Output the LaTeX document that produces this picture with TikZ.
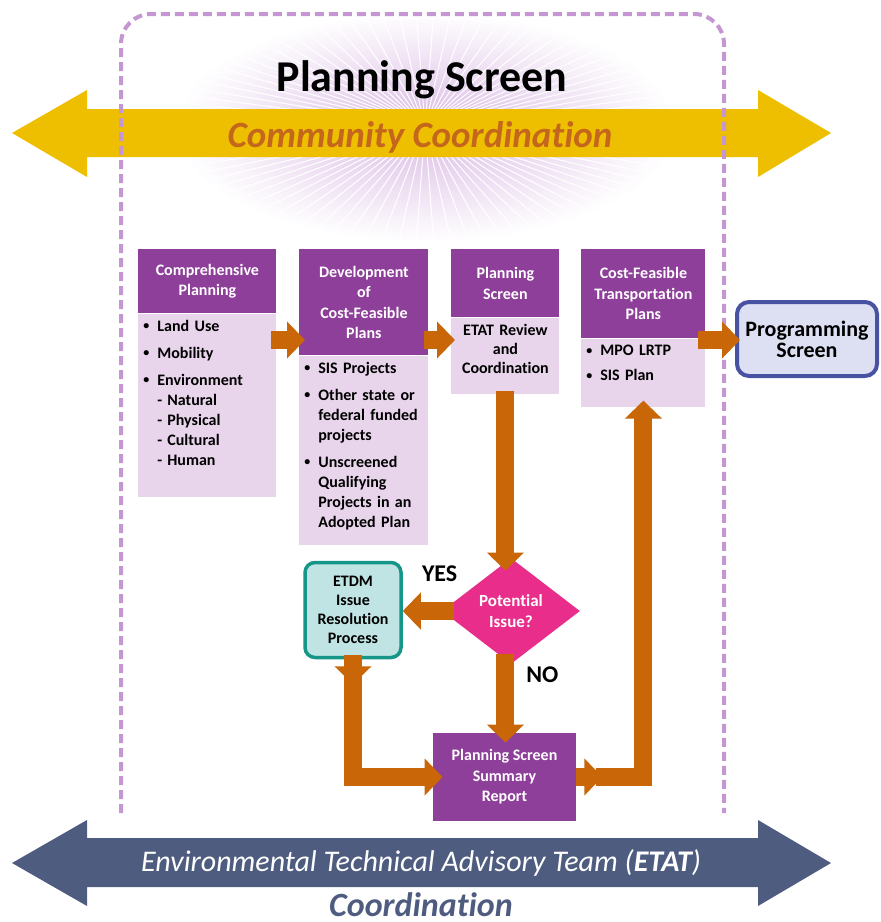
\documentclass[tikz,border=0pt]{standalone}
\usepackage{fontspec}
\setmainfont[Ligatures=NoCommon]{Carlito}
\usetikzlibrary{shapes.geometric,positioning,arrows.meta}
\definecolor{hdrpurple}{RGB}{142,63,154}
\definecolor{bodypurple}{RGB}{232,212,235}
\definecolor{flowor}{RGB}{201,102,8}
\definecolor{commyel}{RGB}{238,190,0}
\definecolor{commtxt}{RGB}{196,102,28}
\definecolor{etatslate}{RGB}{78,92,128}
\definecolor{framelilac}{RGB}{196,150,210}
\definecolor{glowlilac}{RGB}{218,186,228}
\definecolor{issuepink}{RGB}{232,46,138}
\definecolor{etdmteal}{RGB}{22,150,136}
\definecolor{etdmfill}{RGB}{192,228,228}
\definecolor{progblue}{RGB}{72,82,162}
\definecolor{progfill}{RGB}{221,223,242}
\tikzstyle{hdr}=[rectangle,fill=hdrpurple,text=white,font=\bfseries\fontsize{8}{10.25}\selectfont,align=center,inner sep=0pt]
\tikzstyle{bdy}=[rectangle,fill=bodypurple,inner sep=0pt]
\tikzstyle{lst}=[inner xsep=2.5pt,inner ysep=0pt,font=\bfseries\fontsize{8}{10}\selectfont,align=left]
\tikzstyle{flow}=[draw=flowor,line width=9pt,-{Triangle[width=18pt,length=9pt]}]
\tikzstyle{lbl}=[font=\bfseries\fontsize{12}{12}\selectfont,inner sep=0pt]
\tikzstyle{frame}=[draw=framelilac,line width=2pt,dash pattern=on 4.5pt off 2.5pt,rounded corners=15pt]
\newcommand\blt{\raisebox{0.2ex}{\fontsize{6}{6}\selectfont\textbullet}}
\newcommand\itm[2][3.5pt]{\hangindent=7pt\hangafter=1\noindent\makebox[7pt][l]{\blt}#2\par\vspace{#1}}
\newcommand\subitm[1]{\noindent\hspace*{7pt}\makebox[5pt][l]{-}#1\par}
\begin{document}
\begin{tikzpicture}[x=0.5pt,y=-0.5pt]
	\useasboundingbox (0,0) rectangle (880,922);
	\shade[inner color=glowlilac,outer color=white] (425,127) ellipse [x radius=250,y radius=115];
	\foreach \a in {0,4,...,356}
	\draw[white,line width=0.5pt] (425,127) -- +({250*cos(\a)},{115*sin(\a)});
	\fill[commyel] (12,133) -- (87,90) -- (87,109) -- (758,109) -- (758,90) -- (831,133)
		-- (758,177) -- (758,157) -- (87,157) -- (87,177) -- cycle;
	\draw[frame] (121,813) -- (121,14) -- (724,14) -- (724,813);
	\node[font=\bfseries\fontsize{22}{24}\selectfont] (title) at (422,80) {Planning Screen};
	\node[text=commtxt,font=\bfseries\itshape\fontsize{18.5}{20}\selectfont] (comm) at (420,137) {Community Coordination};

	\node[hdr,anchor=north west,minimum width=69pt,minimum height=32pt] (hdrA) at (138,249) {Comprehensive\\Planning};
	\node[bdy,below=0pt of hdrA,minimum width=69pt,minimum height=91.5pt] (bodyA) {};
	\node[lst,text width=64pt,below=3pt of hdrA] (lstA) {\itm{Land Use}\itm{Mobility}\itm[0pt]{Environment}%
		\subitm{Natural}\subitm{Physical}\subitm{Cultural}\subitm{Human}};
	\node[hdr,anchor=north west,minimum width=64.5pt,minimum height=53pt] (hdrB) at (299,249) {Development\\of\\Cost-Feasible\\Plans};
	\node[bdy,below=0pt of hdrB,minimum width=64.5pt,minimum height=94.5pt] (bodyB) {};
	\node[lst,text width=59.5pt,below=3pt of hdrB] (lstB) {\itm{SIS Projects}\itm{Other state or\newline federal funded\newline projects}%
		\itm[0pt]{Unscreened\newline Qualifying\newline Projects in an\newline Adopted Plan}};
	\node[hdr,anchor=north west,minimum width=54pt,minimum height=34pt] (hdrC) at (451,249) {Planning\\Screen};
	\node[bdy,below=0pt of hdrC,minimum width=54pt,minimum height=38pt] (bodyC) {};
	\node[lst,align=center,text width=49pt,below=3pt of hdrC,font=\bfseries\fontsize{8}{9.5}\selectfont] (lstC) {ETAT Review\\and\\Coordination};
	\node[hdr,anchor=north west,minimum width=62pt,minimum height=44.5pt] (hdrD) at (581,249) {Cost-Feasible\\Transportation\\Plans};
	\node[bdy,below=0pt of hdrD,minimum width=62pt,minimum height=34pt] (bodyD) {};
	\node[lst,text width=57pt,below=3pt of hdrD] (lstD) {\itm[2.5pt]{MPO LRTP}\itm[0pt]{SIS Plan}};
	\node[rectangle,rounded corners=6pt,draw=progblue,line width=2pt,fill=progfill,minimum width=70pt,minimum height=37pt,
		align=center,font=\bfseries\fontsize{11}{10.5}\selectfont] (prog) at (807,339) {Programming\\Screen};

	\node[diamond,aspect=1.3,minimum width=69pt,minimum height=53pt,fill=issuepink,text=white,inner sep=0pt,align=center,
		font=\bfseries\fontsize{8.5}{10.5}\selectfont] (issue) at (511,611) {Potential\\Issue?};
	\node[rectangle,rounded corners=5pt,draw=etdmteal,line width=1.75pt,fill=etdmfill,minimum width=48pt,minimum height=47.5pt,
		inner sep=0pt,align=center,font=\bfseries\fontsize{8}{9.5}\selectfont] (etdm) at (353,610) {ETDM\\Issue\\Resolution\\Process};
	\node[hdr,minimum width=71.5pt,minimum height=44pt] (sum) at (504.5,777) {Planning Screen\\Summary\\Report};

	\coordinate (lvl) at (0,340);
	\draw[flow,shorten <=-3pt,shorten >=-3pt] (bodyA.east |- lvl) -- (hdrB.west |- lvl);
	\draw[flow,shorten <=-2.5pt,shorten >=-2pt] (hdrB.east |- lvl) -- (bodyC.west |- lvl);
	\draw[flow,shorten <=-4pt,shorten >=-2.5pt] (bodyD.east |- lvl) -- (prog.west |- lvl);
	\draw[flow,shorten <=-2pt,shorten >=-6.5pt] (bodyC.south) -- (bodyC.south |- issue.north);
	\draw[flow,shorten <=-6pt] (issue.west) -- node[lbl,pos=0.05,above=10pt] (yes) {YES} (issue.west -| etdm.east);
	\draw[flow,shorten <=-5pt,shorten >=-5pt] (bodyC.south |- issue.south) -- node[lbl,pos=0.15,right=6pt] (no) {NO} (bodyC.south |- sum.north);
	\coordinate (etdmtip) at ([yshift=-12.5pt]etdm.south);
	\draw[flow,shorten >=-5pt] ([yshift=-3pt]etdm.south) |- (sum.west);
	\draw[flow,shorten <=-2pt] (etdm.south) -- (etdmtip);
	\coordinate (sumtip) at ([xshift=13pt]sum.east);
	\draw[flow,shorten >=-3.5pt] ([xshift=-3pt]sumtip) -| (bodyD.south);
	\draw[flow] (sum.east) -- (sumtip);

	\fill[etatslate] (12,863) -- (87,820) -- (87,838) -- (758,838) -- (758,820) -- (831,863)
		-- (758,906) -- (758,887) -- (87,887) -- (87,906) -- cycle;
	\node[text=white,font=\itshape\fontsize{15}{16}\selectfont] (etat) at (421,863) {Environmental Technical Advisory Team (\textbf{ETAT})};
	\node[text=etatslate,anchor=base,font=\bfseries\itshape\fontsize{17}{18}\selectfont] (coord) at (421,916) {Coordination};
\end{tikzpicture}
\end{document}
